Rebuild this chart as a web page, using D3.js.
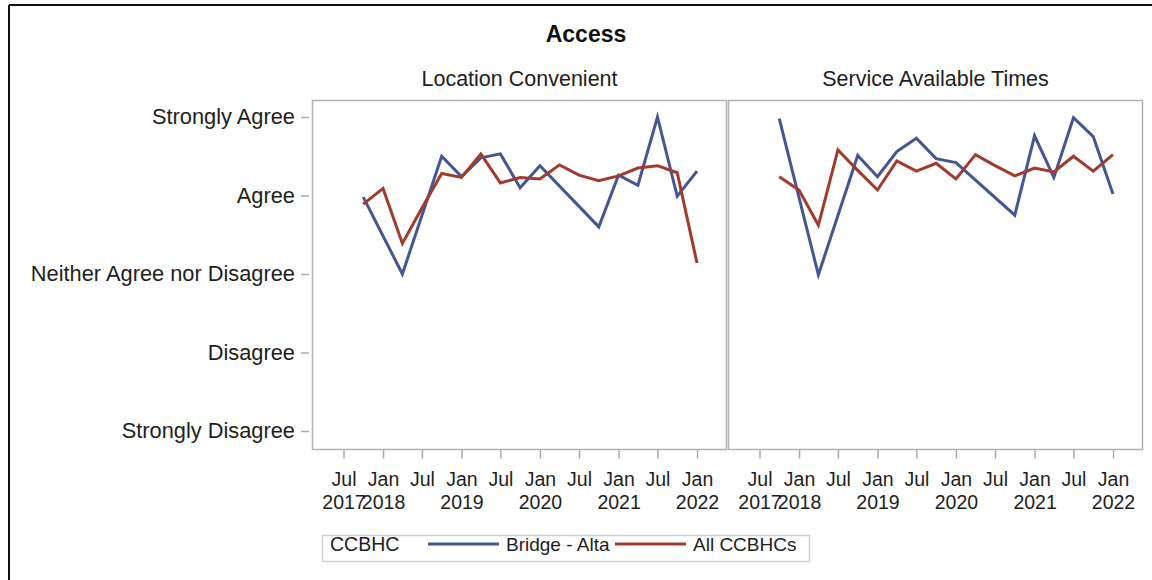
<!DOCTYPE html>
<html>
<head>
<meta charset="utf-8">
<script src="https://cdn.jsdelivr.net/npm/d3@7"></script>
<style>
  body { margin: 0; background: #fff; }
  svg { display: block; font-family: "Liberation Sans", Arial, sans-serif; }
  .tick text { fill: #1e1e1e; }
</style>
</head>
<body>
<svg width="1152" height="580"></svg>
<script>
// quarterly survey averages, 1 = Strongly Disagree ... 5 = Strongly Agree
var quarters = ["2017-10","2018-01","2018-04","2018-07","2018-10","2019-01","2019-04","2019-07","2019-10",
                "2020-01","2020-04","2020-07","2020-10","2021-01","2021-04","2021-07","2021-10","2022-01"];
var locBridge = [3.98, null, 3.00, null, 4.50, 4.24, 4.48, 4.53, 4.10, 4.38, null, null, 3.60, 4.26, 4.13, 5.00, 3.99, 4.31];
var locAll    = [3.89, 4.09, 3.39, 3.84, 4.28, 4.23, 4.53, 4.16, 4.23, 4.21, 4.39, 4.26, 4.19, 4.25, 4.35, 4.38, 4.29, 3.14];
var svcBridge = [4.98, null, 2.99, null, 4.51, 4.24, 4.56, 4.73, 4.47, 4.42, null, null, 3.75, 4.76, 4.23, 4.99, 4.75, 4.02];
var svcAll    = [4.24, 4.07, 3.62, 4.58, 4.32, 4.07, 4.44, 4.31, 4.41, 4.21, 4.52, 4.38, 4.25, 4.35, 4.30, 4.50, 4.31, 4.52];

var levels = ["Strongly Disagree", "Disagree", "Neither Agree nor Disagree", "Agree", "Strongly Agree"];
var tickDates = ["2017-07","2018-01","2018-07","2019-01","2019-07","2020-01","2020-07","2021-01","2021-07","2022-01"];
var panels = [
  { title: "Location Convenient", series: [locBridge, locAll] },
  { title: "Service Available Times", series: [svcBridge, svcAll] }
];
var seriesNames = ["Bridge - Alta", "All CCBHCs"];
var colors = ["#445694", "#A23A2E"];

var parse = d3.timeParse("%Y-%m");
var svg = d3.select("svg");

// screenshot frame
svg.append("line").attr("x1", 9).attr("x2", 1152).attr("y1", 5).attr("y2", 5)
  .attr("stroke", "#111").attr("stroke-width", 2);
svg.append("line").attr("x1", 9).attr("x2", 9).attr("y1", 5).attr("y2", 580)
  .attr("stroke", "#111").attr("stroke-width", 2);

svg.append("text").attr("x", 586).attr("y", 42).attr("text-anchor", "middle")
  .style("font-size", "23px").style("font-weight", "bold").attr("fill", "#111").text("Access");

var panelTop = 100.5, panelBottom = 449.5;
var y = d3.scaleLinear().domain([1, 5]).range([431, 117]);
var panelX = [312.5, 728.5], panelW = 414;

panels.forEach(function(p, i) {
  var px = panelX[i];
  var x = d3.scaleTime()
    .domain([parse("2017-07"), parse("2022-01")])
    .range([px + 31, px + 384.5]);

  svg.append("text").attr("x", px + panelW / 2).attr("y", 86).attr("text-anchor", "middle")
    .style("font-size", "21.5px").attr("fill", "#1e1e1e").text(p.title);

  svg.append("rect").attr("x", px).attr("y", panelTop).attr("width", panelW).attr("height", panelBottom - panelTop)
    .attr("fill", "none").attr("stroke", "#aeb3b6").attr("stroke-width", 1.5);

  var line = d3.line()
    .x(function(d) { return x(d.date); })
    .y(function(d) { return y(d.value); });

  p.series.forEach(function(vals, s) {
    var pts = quarters.map(function(q, k) { return { date: parse(q), value: vals[k] }; })
      .filter(function(d) { return d.value != null; });
    svg.append("path").datum(pts).attr("d", line)
      .attr("fill", "none").attr("stroke", colors[s]).attr("stroke-width", 3)
      .attr("stroke-linejoin", "miter");
  });

  var xa = svg.append("g").attr("transform", "translate(0," + panelBottom + ")")
    .call(d3.axisBottom(x).tickValues(tickDates.map(parse)).tickSize(9).tickPadding(4).tickFormat(""));
  xa.select(".domain").remove();
  xa.selectAll(".tick line").attr("stroke", "#a9adb0").attr("stroke-width", 1.5);
  xa.selectAll(".tick").each(function(d, k) {
    var t = d3.select(this).select("text").style("font-size", "19.5px");
    t.append("tspan").attr("x", 0).attr("dy", "1.22em").text(d3.timeFormat("%b")(d));
    if (k === 0 || d.getMonth() === 0) {
      t.append("tspan").attr("x", 0).attr("dy", "1.18em").text(d3.timeFormat("%Y")(d));
    }
  });
});

var ya = svg.append("g").attr("transform", "translate(309,0)")
  .call(d3.axisLeft(y).tickValues([1, 2, 3, 4, 5]).tickSize(8).tickPadding(6)
    .tickFormat(function(v) { return levels[v - 1]; }));
ya.select(".domain").remove();
ya.selectAll(".tick line").attr("stroke", "#a9adb0").attr("stroke-width", 1.5);
ya.selectAll(".tick text").style("font-size", "21.8px");

// legend
var lg = svg.append("g");
lg.append("rect").attr("x", 322.5).attr("y", 535.5).attr("width", 487).attr("height", 26)
  .attr("fill", "none").attr("stroke", "#cfd2d4").attr("stroke-width", 1.5);
lg.append("text").attr("x", 330).attr("y", 551).style("font-size", "19.5px").attr("fill", "#1e1e1e").text("CCBHC");
var lx = [428, 615];
seriesNames.forEach(function(n, s) {
  lg.append("line").attr("x1", lx[s]).attr("x2", lx[s] + 71).attr("y1", 544).attr("y2", 544)
    .attr("stroke", colors[s]).attr("stroke-width", 3);
  lg.append("text").attr("x", lx[s] + 78).attr("y", 551).style("font-size", "19px").attr("fill", "#1e1e1e").text(n);
});
</script>
</body>
</html>
